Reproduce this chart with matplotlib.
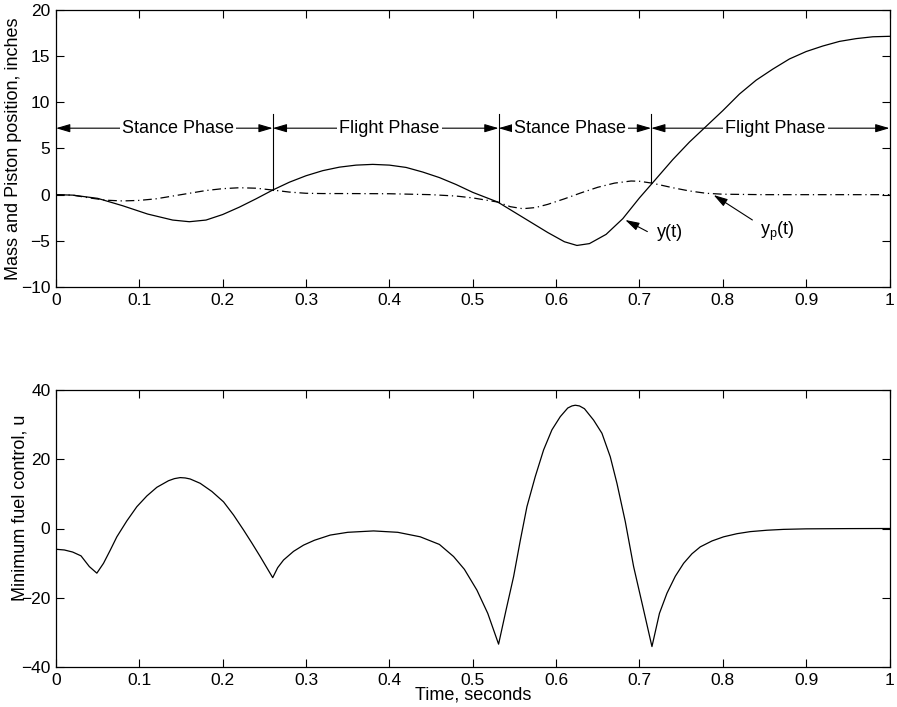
import matplotlib
matplotlib.use("Agg")
import matplotlib.pyplot as plt

plt.rcParams['font.family'] = ['Liberation Sans', 'DejaVu Sans']
plt.rcParams['mathtext.fontset'] = 'custom'
plt.rcParams['mathtext.rm'] = 'Liberation Sans'
plt.rcParams['mathtext.it'] = 'Liberation Sans'
plt.rcParams['mathtext.default'] = 'regular'

# ---------------- data ----------------
t_y = [0, 0.02, 0.05, 0.08, 0.11, 0.14, 0.16, 0.18, 0.20, 0.22, 0.24, 0.26, 0.28, 0.30,
       0.32, 0.34, 0.36, 0.38, 0.40, 0.42, 0.44, 0.46, 0.48, 0.50, 0.52, 0.53, 0.55, 0.57,
       0.59, 0.61, 0.625, 0.64, 0.66, 0.68, 0.70, 0.715, 0.74, 0.76, 0.78, 0.80, 0.82,
       0.84, 0.86, 0.88, 0.90, 0.92, 0.94, 0.96, 0.98, 1.0]
y_mass = [0, -0.05, -0.4, -1.2, -2.1, -2.75, -2.93, -2.75, -2.15, -1.35, -0.45, 0.5, 1.35,
          2.05, 2.6, 2.98, 3.2, 3.28, 3.2, 2.95, 2.45, 1.85, 1.1, 0.25, -0.45, -0.8, -1.9,
          -3.0, -4.1, -5.1, -5.5, -5.3, -4.3, -2.6, -0.35, 1.2, 3.8, 5.7, 7.4, 9.1, 10.9,
          12.4, 13.6, 14.7, 15.5, 16.1, 16.6, 16.9, 17.1, 17.15]

t_p = [0, 0.02, 0.04, 0.06, 0.08, 0.10, 0.12, 0.14, 0.16, 0.18, 0.20, 0.22, 0.24, 0.26,
       0.28, 0.30, 0.32, 0.35, 0.40, 0.45, 0.48, 0.50, 0.53, 0.545, 0.56, 0.575, 0.59,
       0.61, 0.63, 0.65, 0.67, 0.69, 0.70, 0.715, 0.74, 0.76, 0.78, 0.80, 0.85, 0.90,
       0.95, 1.0]
y_piston = [0, -0.05, -0.35, -0.6, -0.68, -0.62, -0.45, -0.15, 0.15, 0.45, 0.65, 0.75,
            0.7, 0.5, 0.28, 0.15, 0.12, 0.12, 0.1, 0.0, -0.15, -0.35, -0.8, -1.3, -1.52,
            -1.4, -1.05, -0.45, 0.2, 0.8, 1.25, 1.48, 1.45, 1.25, 0.75, 0.4, 0.15, 0.05,
            0.0, 0.0, 0.0, 0.0]

t_u = [0, 0.01, 0.02, 0.03, 0.04, 0.049, 0.057, 0.065, 0.073, 0.085, 0.097, 0.109, 0.121,
       0.135, 0.142, 0.149, 0.155, 0.161, 0.173, 0.187, 0.201, 0.213, 0.225, 0.235, 0.245,
       0.26, 0.266, 0.273, 0.285, 0.297, 0.31, 0.329, 0.35, 0.381, 0.41, 0.437, 0.46, 0.477,
       0.49, 0.505, 0.518, 0.531, 0.54, 0.549, 0.557, 0.565, 0.575, 0.585, 0.595, 0.605,
       0.614, 0.619, 0.623, 0.628, 0.634, 0.645, 0.655, 0.665, 0.673, 0.683, 0.693, 0.704,
       0.715, 0.724, 0.733, 0.743, 0.753, 0.763, 0.773, 0.787, 0.801, 0.817, 0.833, 0.853,
       0.873, 0.9, 0.95, 1.0]
u_ctrl = [-6.0, -6.2, -6.8, -7.9, -11.0, -12.9, -10.05, -6.3, -2.4, 2.2, 6.3, 9.4, 11.9,
          13.8, 14.4, 14.7, 14.6, 14.3, 13.05, 10.7, 7.7, 3.9, -0.43, -4.2, -8.1, -14.2,
          -11.3, -9.1, -6.6, -4.8, -3.4, -1.9, -1.1, -0.7, -1.1, -2.4, -4.6, -8.1, -11.8,
          -17.8, -24.5, -33.4, -23.5, -13.9, -3.5, 6.3, 15.0, 22.7, 28.5, 32.3, 34.8, 35.4,
          35.6, 35.4, 34.6, 31.3, 27.5, 20.7, 13.05, 2.0, -11.0, -22.5, -34.1, -24.5, -18.7,
          -13.8, -10.05, -7.3, -5.3, -3.6, -2.4, -1.5, -0.9, -0.5, -0.25, -0.1, -0.03, 0.0]

# phase boundaries and labels
phase_bounds = [0.0, 0.26, 0.531, 0.714, 1.0]
phase_names = ["Stance Phase", "Flight Phase", "Stance Phase", "Flight Phase"]
phase_text_x = [0.146, 0.40, 0.617, 0.863]
phase_y = 7.2
bound_line_bottom = [0.5, -0.7, 1.3]
bound_line_top = 8.7

x_ticks = [0, 0.1, 0.2, 0.3, 0.4, 0.5, 0.6, 0.7, 0.8, 0.9, 1.0]
x_ticklabels = ["0", "0.1", "0.2", "0.3", "0.4", "0.5", "0.6", "0.7", "0.8", "0.9", "1"]
y1_ticks = [-10, -5, 0, 5, 10, 15, 20]
y2_ticks = [-40, -20, 0, 20, 40]

# ---------------- figure ----------------
W, H = 897, 707
fig = plt.figure(figsize=(W / 100, H / 100), dpi=100)
L = 56 / W
AW = 833.5 / W
ax1 = fig.add_axes([L, (H - 287) / H, AW, 277 / H])
ax2 = fig.add_axes([L, (H - 667) / H, AW, 277 / H])

FS = 13
TFS = 12.5
for ax in (ax1, ax2):
    ax.tick_params(direction='in', top=True, right=True, length=6, width=0.8,
                   labelsize=TFS, pad=4)
    for s in ax.spines.values():
        s.set_linewidth(0.9)
    ax.set_xlim(0, 1)
    ax.set_xticks(x_ticks)
    ax.set_xticklabels(x_ticklabels)

# top panel
ax1.plot(t_y, y_mass, color='black', lw=0.9)
ax1.plot(t_p, y_piston, color='black', lw=0.9, linestyle=(0, (7, 3, 1, 3)))
ax1.set_ylim(-10, 20)
ax1.set_yticks(y1_ticks)
ax1.set_ylabel("Mass and Piston position, inches", fontsize=FS, va='center')
ax1.yaxis.set_label_coords(-0.0504, 0.5)

for xb, yb in zip(phase_bounds[1:-1], bound_line_bottom):
    ax1.plot([xb, xb], [yb, bound_line_top], color='black', lw=0.8)

ap = dict(arrowstyle="-|>,head_length=0.85,head_width=0.25", color='black', lw=0.8,
          mutation_scale=10, shrinkA=0, shrinkB=0)
for i, name in enumerate(phase_names):
    xc = phase_text_x[i]
    ax1.annotate('', xy=(phase_bounds[i], phase_y), xytext=(xc, phase_y), arrowprops=ap)
    ax1.annotate('', xy=(phase_bounds[i + 1], phase_y), xytext=(xc, phase_y), arrowprops=ap)
    ax1.text(xc, phase_y, name, ha='center', va='center', fontsize=FS, zorder=5,
             bbox=dict(facecolor='white', edgecolor='none', pad=1.5))

ax1.annotate('', xy=(0.683, -2.74), xytext=(0.7095, -4.0), arrowprops=ap)
ax1.text(0.7215, -4.1, "y(t)", ha='left', va='center', fontsize=FS)
ax1.annotate('', xy=(0.789, -0.04), xytext=(0.8355, -2.74), arrowprops=ap)
ax1.text(0.845, -4.0, "y$_p$(t)", ha='left', va='center', fontsize=FS)

# bottom panel
ax2.plot(t_u, u_ctrl, color='black', lw=0.9)
ax2.set_ylim(-40, 40)
ax2.set_yticks(y2_ticks)
ax2.set_ylabel("Minimum fuel control, u", fontsize=FS, va='center')
ax2.yaxis.set_label_coords(-0.0426, 0.574)
ax2.set_xlabel("Time, seconds", fontsize=FS)
ax2.xaxis.set_label_coords(0.5, -0.101)
ax2.xaxis.label.set_va('center')

fig.savefig("out.png", dpi=100)
